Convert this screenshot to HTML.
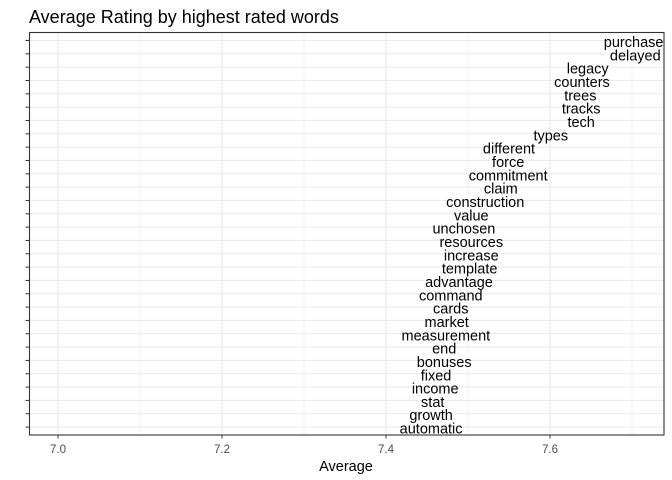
<!DOCTYPE html>
<html><head><meta charset="utf-8"><style>
body{margin:0;background:#fff}
svg{display:block;font-family:"Liberation Sans",Arial,sans-serif}
</style></head><body>
<svg id="chart" width="672" height="480" xmlns="http://www.w3.org/2000/svg">
<text x="29" y="23" font-size="18" fill="#000">Average Rating by highest rated words</text>
<g id="grid"></g><g id="marks"></g><g id="axes"></g>
<text x="346" y="471" font-size="14.5" text-anchor="middle" fill="#000">Average</text>
</svg>
<script>
const words=["purchase","delayed","legacy","counters","trees","tracks","tech","types","different","force","commitment","claim","construction","value","unchosen","resources","increase","template","advantage","command","cards","market","measurement","end","bonuses","fixed","income","stat","growth","automatic"];
const averages=[7.702,7.704,7.646,7.639,7.637,7.638,7.638,7.601,7.550,7.549,7.549,7.540,7.521,7.504,7.495,7.504,7.504,7.502,7.489,7.479,7.479,7.474,7.473,7.471,7.471,7.461,7.460,7.457,7.455,7.455];
const xTicks=[7.0,7.2,7.4,7.6];
const xMinor=[7.1,7.3,7.5,7.7];
const NS="http://www.w3.org/2000/svg";
const L=29.5,R=664,T=32.5,B=435;
const x=v=>58+(v-7)*820;
const y=i=>40.5+i*13.33;
function mk(tag,attrs,parent,text){const e=document.createElementNS(NS,tag);for(const k in attrs)e.setAttribute(k,attrs[k]);if(text!==undefined)e.textContent=text;parent.appendChild(e);return e;}
const grid=document.getElementById('grid'),marks=document.getElementById('marks'),axes=document.getElementById('axes');
const bg=mk('rect',{x:L,y:T,width:R-L,height:B-T,fill:'#fff'},grid);


xMinor.forEach(v=>{if(x(v)<R){const g=mk('line',{x1:x(v),x2:x(v),y1:T,y2:B,stroke:'#f0f0f0','stroke-width':0.6},grid);

}});
xTicks.forEach(v=>{const g=mk('line',{x1:x(v),x2:x(v),y1:T,y2:B,stroke:'#ebebeb','stroke-width':1.1},grid);


const t=mk('text',{x:x(v),y:453,'font-size':11.5,'text-anchor':'middle',fill:'#4d4d4d'},axes,v.toFixed(1));


const tk=mk('line',{x1:x(v),x2:x(v),y1:B,y2:B+3.5,stroke:'#333','stroke-width':1},axes);

});
words.forEach((w,i)=>{const g=mk('line',{x1:L,x2:R,y1:y(i),y2:y(i),stroke:'#ebebeb','stroke-width':1.1},grid);


const tk=mk('line',{x1:L-4,x2:L,y1:y(i),y2:y(i),stroke:'#333','stroke-width':1},axes);


const t=mk('text',{x:x(averages[i]),y:y(i)+6.5,'font-size':14.5,'text-anchor':'middle',fill:'#000'},marks,w);

});
const fr=mk('rect',{x:L,y:T,width:R-L,height:B-T,fill:'none',stroke:'#333','stroke-width':1.1},axes);


</script>
</body></html>
